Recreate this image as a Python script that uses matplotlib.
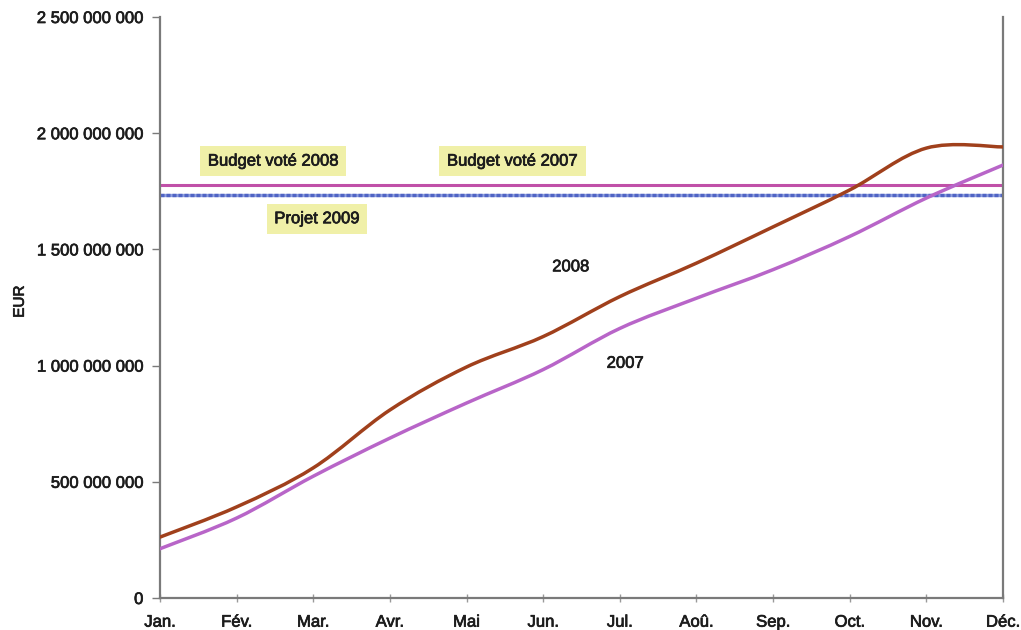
import numpy as np
import matplotlib
matplotlib.use("Agg")
import matplotlib.pyplot as plt
import matplotlib.patheffects as pe
from matplotlib.path import Path
from matplotlib.patches import PathPatch
from matplotlib.ticker import FuncFormatter, MultipleLocator

months = ["Jan.", "Fév.", "Mar.", "Avr.", "Mai", "Jun.", "Jul.", "Aoû.", "Sep.", "Oct.", "Nov.", "Déc."]

exec_2008 = [262e6, 392e6, 560e6, 809e6, 994e6, 1125e6, 1297e6, 1441e6, 1597e6, 1756e6, 1936e6, 1941e6]
exec_2007 = [212e6, 344e6, 524e6, 688e6, 839e6, 983e6, 1160e6, 1290e6, 1413e6, 1556e6, 1721e6, 1863e6]

budget_2008 = 1.777e9
budget_2007 = 1.772e9
projet_2009 = 1.734e9

BROWN = "#a0401c"
VIOLET = "#b865c8"
PINK = "#c050a8"
BLUE = "#5064c4"
INK = "#1c1c1c"

plt.rcParams["font.family"] = ["Liberation Sans", "DejaVu Sans"]

fig = plt.figure(figsize=(10.21, 6.30), dpi=100)
ax = fig.add_axes([0.1567, 0.0508, 0.9824 - 0.1567, 0.973 - 0.0508])


def smooth_path(xs, ys, tension=1 / 6):
    # Bezier segments through every point (Catmull-Rom style smoothing)
    xs = np.asarray(xs, float)
    ys = np.asarray(ys, float)
    n = len(xs)
    verts = [(xs[0], ys[0])]
    codes = [Path.MOVETO]
    for i in range(n - 1):
        p0 = i - 1 if i > 0 else i
        p3 = i + 2 if i + 2 < n else i + 1
        c1 = (xs[i] + (xs[i + 1] - xs[p0]) * tension, ys[i] + (ys[i + 1] - ys[p0]) * tension)
        c2 = (xs[i + 1] - (xs[p3] - xs[i]) * tension, ys[i + 1] - (ys[p3] - ys[i]) * tension)
        verts += [c1, c2, (xs[i + 1], ys[i + 1])]
        codes += [Path.CURVE4] * 3
    return Path(verts, codes)


x = np.arange(len(months))

# budget reference lines
ax.axhline(budget_2008, color=PINK, lw=2.2, zorder=2)
ax.axhline(budget_2007, color=PINK, lw=1.2, zorder=2)
ax.axhline(projet_2009, color="#8fa0e0", lw=2.4, zorder=2)
ax.axhline(projet_2009, color=BLUE, lw=2.4, ls=(0, (1.2, 0.6)), zorder=2)

for vals, col in [(exec_2007, VIOLET), (exec_2008, BROWN)]:
    patch = PathPatch(smooth_path(x, vals), facecolor="none", edgecolor=col, lw=2.5,
                      transform=ax.transData, zorder=3, capstyle="round")
    ax.add_patch(patch)

ax.set_xlim(0, len(months) - 1)
ax.set_ylim(0, 2.5e9)
ax.set_xticks(x)
ax.set_xticklabels(months)
ax.yaxis.set_major_locator(MultipleLocator(5e8))
ax.yaxis.set_major_formatter(FuncFormatter(lambda v, p: f"{int(v):,}".replace(",", " ")))

for s in ["left", "bottom", "right"]:
    ax.spines[s].set_color("#7a7a7a")
    ax.spines[s].set_linewidth(1.6)
ax.spines["top"].set_visible(False)

ax.tick_params(axis="y", direction="out", length=6, width=1, color="#7a7a7a",
               labelsize=12, labelcolor=INK, pad=6)
ax.tick_params(axis="x", direction="inout", length=6, width=1, color="#9a9a9a",
               labelsize=12, labelcolor=INK, pad=9)

heavy = [pe.withStroke(linewidth=0.5, foreground=INK)]
for lab in ax.get_xticklabels() + ax.get_yticklabels():
    lab.set_path_effects(heavy)

ax.set_ylabel("EUR", fontsize=11, color=INK)
ax.yaxis.set_label_coords(-0.158, 0.51)
ax.yaxis.label.set_path_effects(heavy)

box = dict(boxstyle="square,pad=0.45", facecolor="#f0f0a8", edgecolor="none")
for tx, ty, s in [(1.48, 1.88e9, "Budget voté 2008"),
                  (4.6, 1.88e9, "Budget voté 2007"),
                  (2.05, 1.632e9, "Projet 2009")]:
    ax.text(tx, ty, s, fontsize=12, ha="center", va="center", color=INK,
            bbox=box, zorder=4, path_effects=heavy)

ax.text(5.36, 1.425e9, "2008", fontsize=12, ha="center", va="center", color=INK, path_effects=heavy)
ax.text(6.07, 1.01e9, "2007", fontsize=12, ha="center", va="center", color=INK, path_effects=heavy)

fig.savefig("out.png", dpi=100)
